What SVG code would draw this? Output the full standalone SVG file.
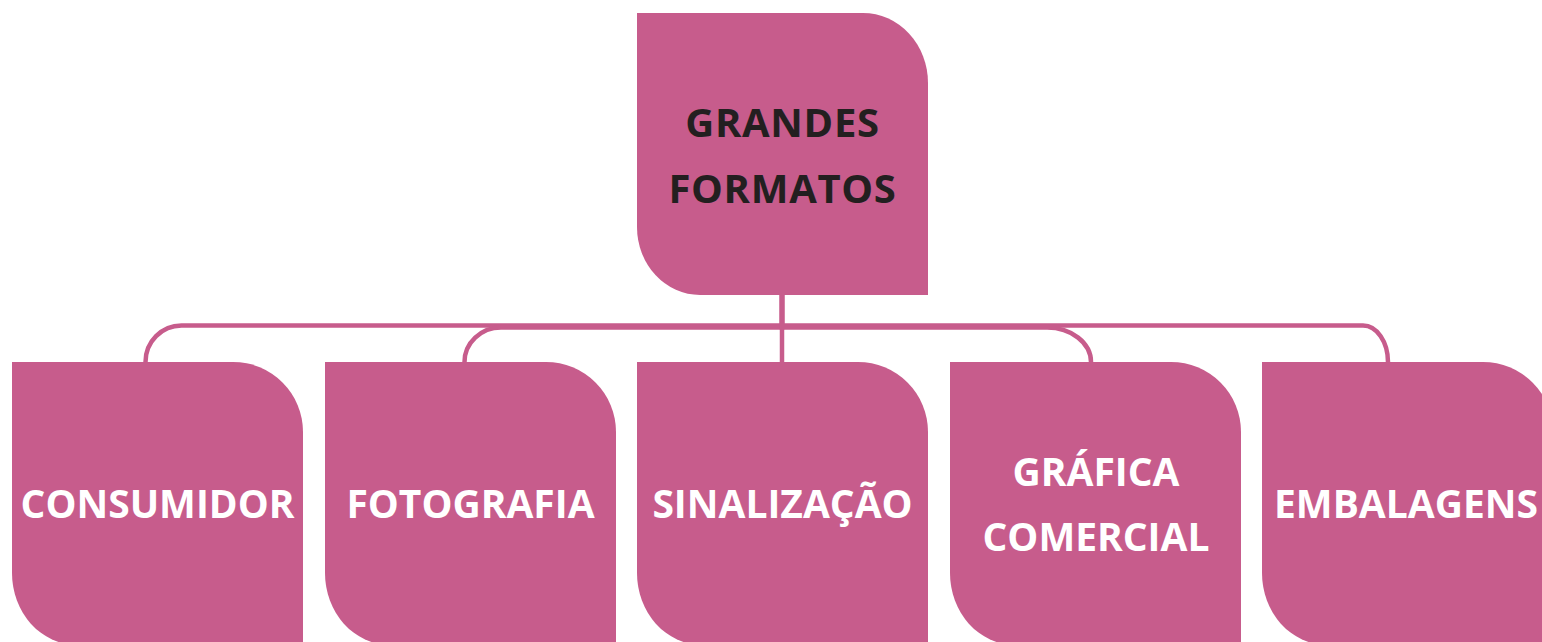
<svg xmlns="http://www.w3.org/2000/svg" width="1542" height="642" viewBox="0 0 1542 642">
<style>
.box{fill:#c75c8c}
.conn{fill:none;stroke:#c75c8c;stroke-width:4.5}
.t{font-family:"Open Sans","Liberation Sans",sans-serif;font-weight:bold;font-size:39px;text-anchor:middle}
.w{fill:#ffffff}
.d{fill:#231f20;font-size:40px;letter-spacing:0.7px}
</style>
<rect width="1542" height="642" fill="#ffffff"/>
<g id="connectors">
<path class="conn" d="M782 295 V325.5 H181.5 A36 36.5 0 0 0 145.5 362"/>
<path class="conn" d="M782 295 V327.5 H501 A36.5 34.5 0 0 0 464.5 362"/>
<path class="conn" d="M782 295 V362"/>
<path class="conn" d="M782 295 V327.5 H1047 A44 34.5 0 0 1 1091 362"/>
<path class="conn" d="M782 295 V325.5 H1363 A25 36.5 0 0 1 1388 362"/>
</g>
<g id="grandes-formatos">
<path class="box" d="M637 13 H863 A65 70 0 0 1 928 83 V295 H700 A63 68 0 0 1 637 227 Z"/>
<text class="t d" x="782.5" y="137">GRANDES</text>
<text class="t d" x="782.5" y="203">FORMATOS</text>
</g>
<g id="consumidor">
<path class="box" d="M12 362 H233 A70 70 0 0 1 303 432 V645 H77 A65 72 0 0 1 12 573 Z"/>
<text class="t w" x="157.5" y="518">CONSUMIDOR</text>
</g>
<g id="fotografia">
<path class="box" d="M325 362 H546 A70 70 0 0 1 616 432 V645 H390 A65 72 0 0 1 325 573 Z"/>
<text class="t w" x="470.5" y="518">FOTOGRAFIA</text>
</g>
<g id="sinalizacao">
<path class="box" d="M637 362 H858 A70 70 0 0 1 928 432 V645 H702 A65 72 0 0 1 637 573 Z"/>
<text class="t w" x="782.5" y="518">SINALIZAÇÃO</text>
</g>
<g id="grafica-comercial">
<path class="box" d="M950 362 H1171 A70 70 0 0 1 1241 432 V645 H1015 A65 72 0 0 1 950 573 Z"/>
<text class="t w" x="1096" y="486">GRÁFICA</text>
<text class="t w" x="1096" y="551">COMERCIAL</text>
</g>
<g id="embalagens">
<path class="box" d="M1262 362 H1483 A70 70 0 0 1 1553 432 V645 H1327 A65 72 0 0 1 1262 573 Z"/>
<text class="t w" x="1406" y="518">EMBALAGENS</text>
</g>
</svg>
